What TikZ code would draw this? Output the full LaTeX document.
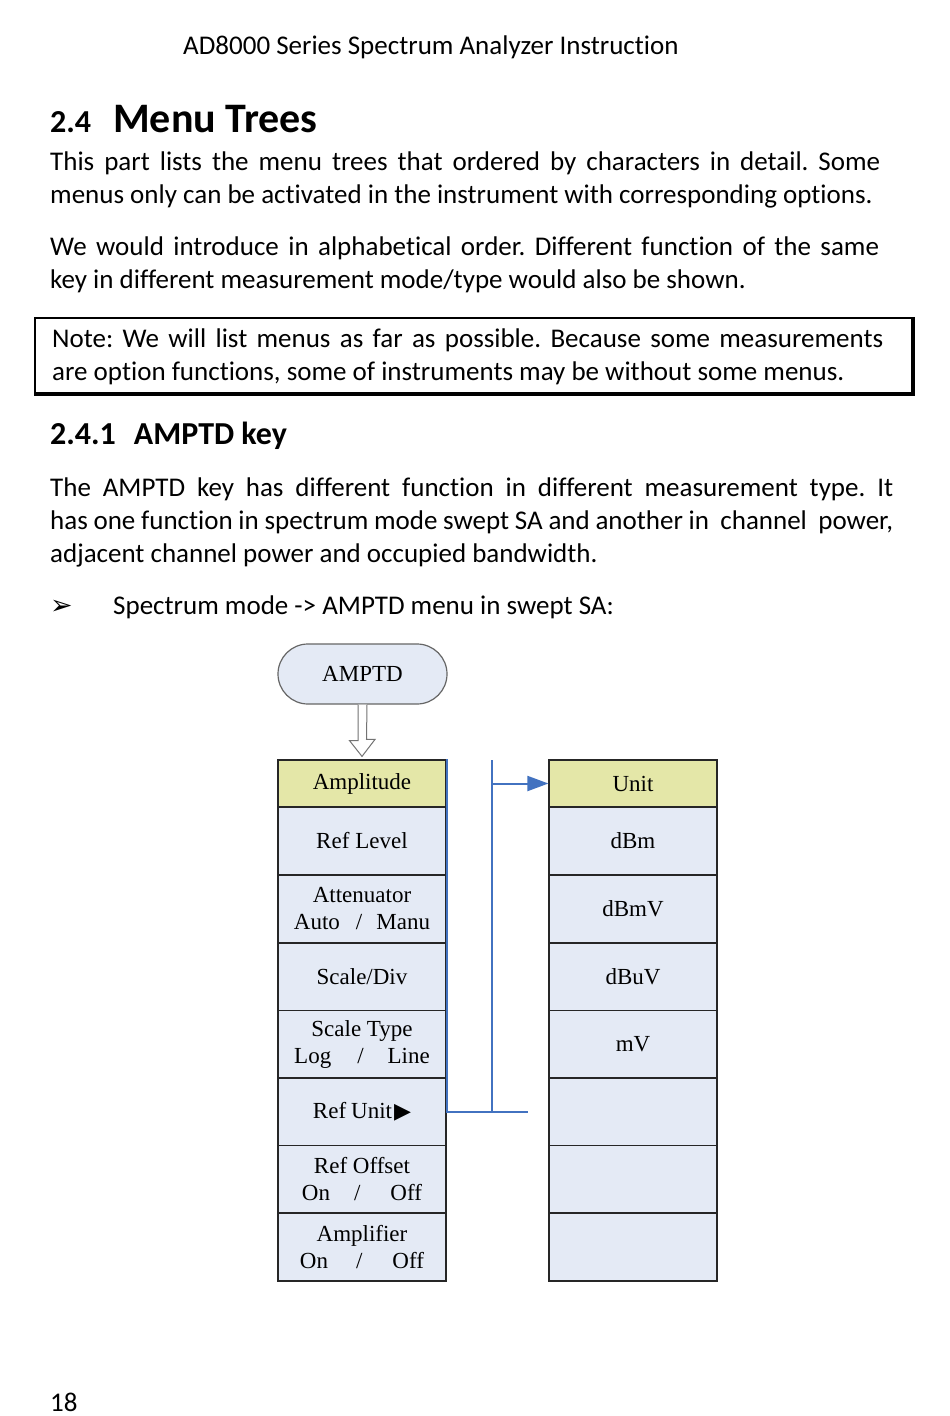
\documentclass[tikz,border=0pt]{standalone}
\usepackage{fontspec}
\setmainfont{Carlito}[Ligatures=NoCommon]
\newfontfamily\tms{Liberation Serif}
\newfontfamily\djv{DejaVu Sans}
\usetikzlibrary{arrows.meta}
\frenchspacing
\definecolor{cellblue}{RGB}{228,234,245}
\definecolor{cellhead}{RGB}{228,231,168}
\definecolor{linkblue}{RGB}{66,114,192}
\tikzset{
  menucell/.style={draw=black!85,line width=1.2pt,fill=cellblue,minimum width=168pt,
    minimum height=68pt,inner sep=0pt,align=center,font=\tms\fontsize{23}{27}\selectfont},
  menuhead/.style={menucell,fill=cellhead,minimum height=47pt},
  bodyline/.style={anchor=base west,inner sep=0pt,font=\fontsize{27}{32}\selectfont},
  link/.style={draw=linkblue,line width=2pt},
  hollowarrow/.style={draw=black!55,line width=1pt,fill=white}
}

\begin{document}
\begin{tikzpicture}[x=1pt,y=-1pt]
  \useasboundingbox[fill=white] (0,0) rectangle (950,1416);

  \node[bodyline] (header) at (183,54) {AD8000 Series Spectrum Analyzer Instruction};
  \node[bodyline,font=\bfseries\fontsize{32}{36}\selectfont] (secnum) at (50,132) {2.4};
  \node[bodyline,font=\bfseries\fontsize{42}{46}\selectfont] (sectitle) at (113,132) {Menu Trees};

  \node[bodyline] (p1a) at (50,170) {\makebox[830pt][s]{This part lists the menu trees that ordered by characters in detail. Some}};
  \node[bodyline] (p1b) at (50,203) {menus only can be activated in the instrument with corresponding options.};
  \node[bodyline] (p2a) at (50,255) {\makebox[829pt][s]{We would introduce in alphabetical order. Different function of the same}};
  \node[bodyline] (p2b) at (50,288) {key in different measurement mode/type would also be shown.};

  \node[draw,line width=1.5pt,minimum width=877pt,minimum height=75pt,inner sep=0pt] (note) at (473.5,355.5) {};
  \draw[line width=3pt] ([yshift=-0.8pt]note.south west) -- ([xshift=0.8pt,yshift=-0.8pt]note.south east)
    -- ([xshift=0.8pt]note.north east);
  \node[bodyline] (n1) at (52,347) {\makebox[831pt][s]{Note: We will list menus as far as possible. Because some measurements}};
  \node[bodyline] (n2) at (52,380) {are option functions, some of instruments may be without some menus.};

  \node[bodyline,font=\bfseries\fontsize{32}{36}\selectfont] (subsec) at (50,444) {2.4.1\hspace{18pt}AMPTD key};
  \node[bodyline] (p3a) at (50,496) {\makebox[843pt][s]{The AMPTD key has different function in different measurement type. It}};
  \node[bodyline] (p3b) at (50,529) {\makebox[843pt][s]{has one function in spectrum mode swept SA and another in\ \ channel\ \ power,}};
  \node[bodyline] (p3c) at (50,562) {adjacent channel power and occupied bandwidth.};

  \node[bodyline,font=\djv\fontsize{27}{30}\selectfont] (bullet) at (50,614) {➢};
  \node[bodyline] (item) at (113,614) {Spectrum mode -> AMPTD menu in swept SA:};

  % menu tree
  \node[draw=black!60,line width=1.2pt,fill=cellblue,rounded corners=30pt,minimum width=169pt,
    minimum height=60pt,font=\tms\fontsize{23}{27}\selectfont] (amptd) at (362.5,674) {AMPTD};

  \node[menuhead] (amp) at (362,783.5) {Amplitude};
  \foreach \y/\t [count=\i] in {841/{Ref\hspace{6pt}Level},909/{Attenuator\\Auto\hspace{16pt}/\hspace{14pt}Manu},
      977/{Scale/Div},1044.5/{Scale Type\\Log\hspace{26pt}/\hspace{24pt}Line},
      1112/{Ref\hspace{5pt}Unit\hspace{2pt}{\djv\fontsize{22}{24}\selectfont▶}},
      1179.5/{Ref Offset\\On\hspace{24pt}/\hspace{30pt}Off},1247/{Amplifier\\On\hspace{28pt}/\hspace{30pt}Off}}
    \node[menucell] (l\i) at (362,\y) {\t};

  \node[menuhead] (unit) at (633,783.5) {Unit};
  \foreach \y/\t [count=\i] in {841/dBm,909/dBmV,977/dBuV,1044.5/mV,1112/{},1179.5/{},1247/{}}
    \node[menucell] (r\i) at (633,\y) {\t};

  \draw[hollowarrow] ([xshift=-4.5pt]amptd.south) -- ++(0,36) -- ++(-8.5,0) -- ([yshift=3pt]amp.north)
    -- ++(13,-17) -- ++(-8.5,0) -- ([xshift=4.5pt]amptd.south);

  \coordinate (bustop) at (492,760);
  \draw[link] (amp.north east) -- (l5.east) -- ++(81,0) coordinate (busend);
  \draw[link] (bustop) -- (bustop |- l5.east);
  \draw[link,-{Triangle[length=21pt,width=15pt]}] (bustop |- unit.west) -- (unit.west);

  \node[bodyline] (pagenum) at (50,1411) {18};
\end{tikzpicture}
\end{document}
